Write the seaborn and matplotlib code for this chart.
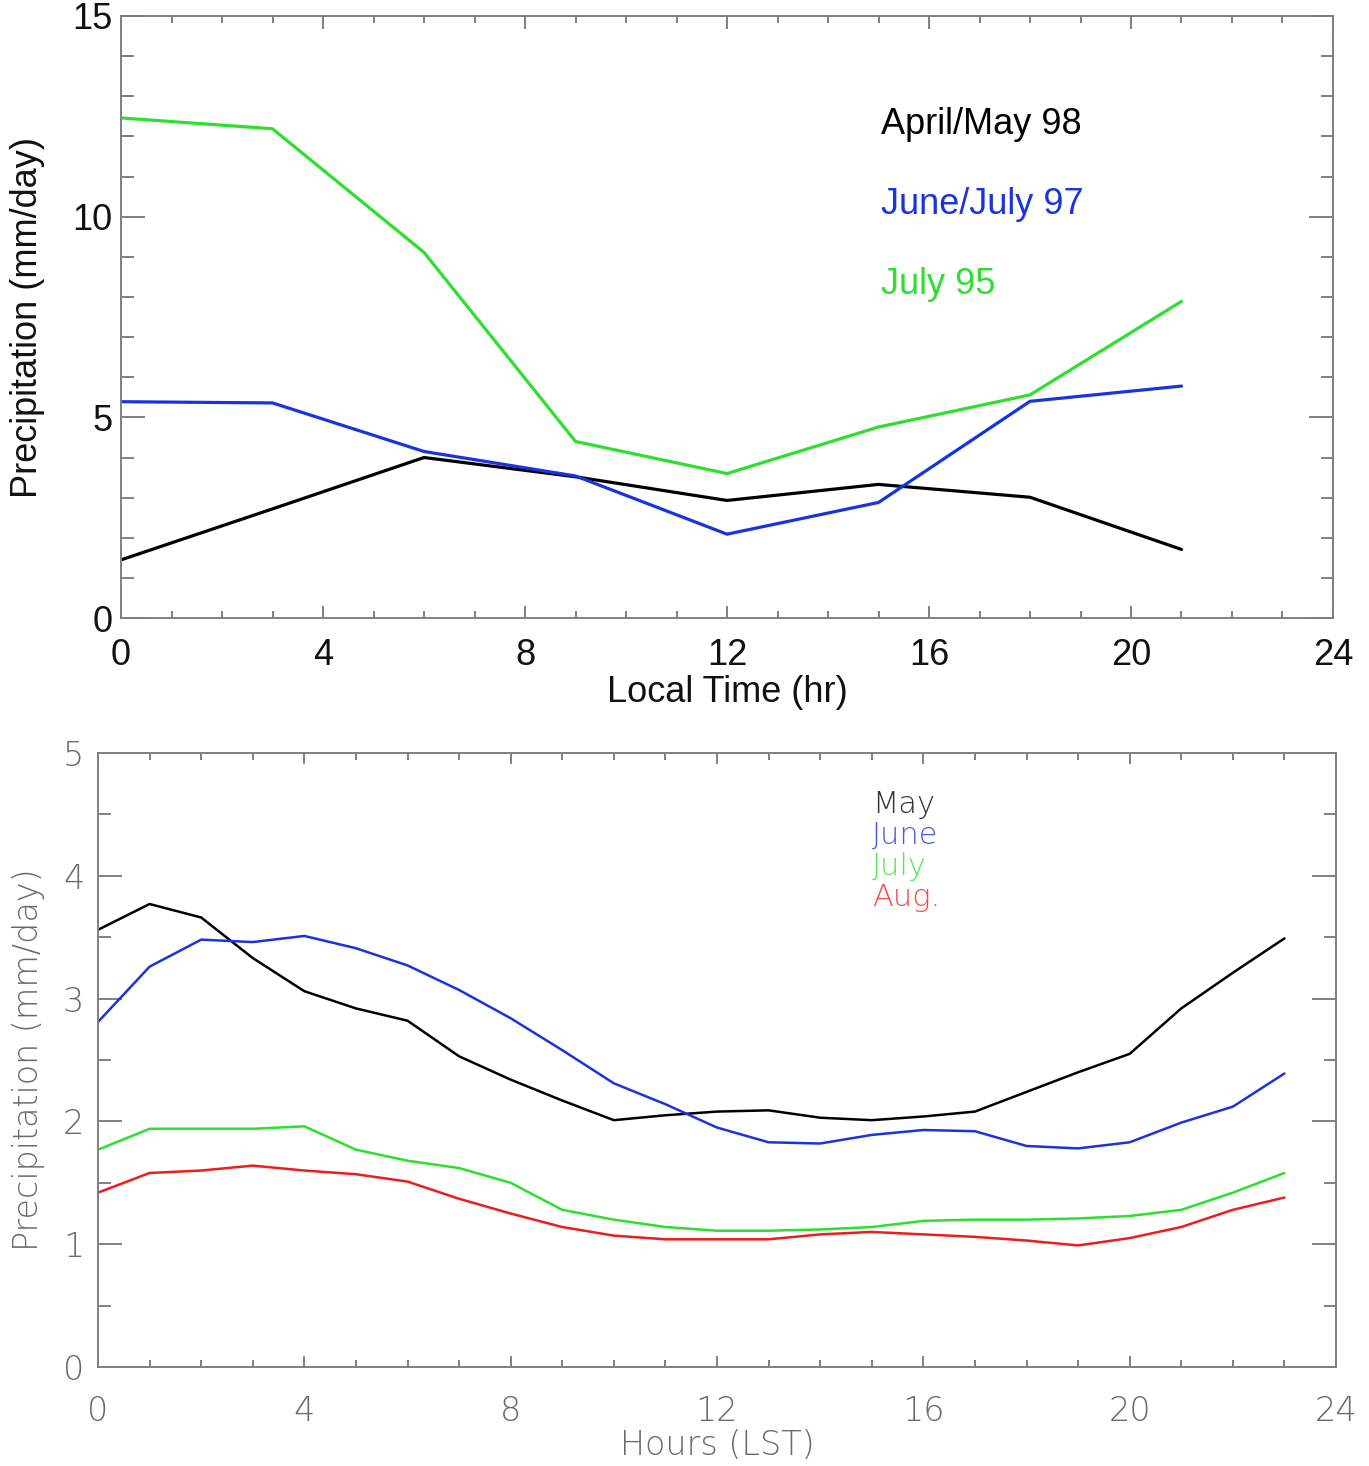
import pandas as pd
import matplotlib
matplotlib.use("Agg")
import matplotlib.pyplot as plt
from matplotlib.ticker import MultipleLocator
import seaborn as sns

# top panel: 3-hourly diurnal cycle
top_hours = [0, 3, 6, 9, 12, 15, 18, 21]
top_aprmay98 = [1.45, 2.72, 4.00, 3.52, 2.93, 3.33, 3.01, 1.71]
top_junjul97 = [5.39, 5.36, 4.15, 3.54, 2.09, 2.88, 5.40, 5.78]
top_jul95 = [12.46, 12.19, 9.11, 4.40, 3.60, 4.76, 5.56, 7.89]
top_names = ["April/May 98", "June/July 97", "July 95"]

# bottom panel: hourly diurnal cycle
bot_hours = list(range(24))
bot_may = [3.56, 3.77, 3.66, 3.33, 3.06, 2.92, 2.82, 2.53, 2.34, 2.17, 2.01, 2.05,
           2.08, 2.09, 2.03, 2.01, 2.04, 2.08, 2.24, 2.40, 2.55, 2.92, 3.21, 3.49]
bot_june = [2.81, 3.26, 3.48, 3.46, 3.51, 3.41, 3.27, 3.07, 2.84, 2.58, 2.31, 2.14,
            1.95, 1.83, 1.82, 1.89, 1.93, 1.92, 1.80, 1.78, 1.83, 1.99, 2.12, 2.39]
bot_july = [1.77, 1.94, 1.94, 1.94, 1.96, 1.77, 1.68, 1.62, 1.50, 1.28, 1.20, 1.14,
            1.11, 1.11, 1.12, 1.14, 1.19, 1.20, 1.20, 1.21, 1.23, 1.28, 1.42, 1.58]
bot_aug = [1.42, 1.58, 1.60, 1.64, 1.60, 1.57, 1.51, 1.37, 1.25, 1.14, 1.07, 1.04,
           1.04, 1.04, 1.08, 1.10, 1.08, 1.06, 1.03, 0.99, 1.05, 1.14, 1.28, 1.38]
bot_names = ["May", "June", "July", "Aug."]

top_colors = ["#000000", "#1a33e0", "#2ee02e"]
bot_colors = ["#000000", "#1a33e0", "#2ee02e", "#ee1c1c"]

df_top = pd.DataFrame({
    "hour": top_hours * 3,
    "precip": top_aprmay98 + top_junjul97 + top_jul95,
    "period": sum([[n] * len(top_hours) for n in top_names], []),
})
df_bot = pd.DataFrame({
    "hour": bot_hours * 4,
    "precip": bot_may + bot_june + bot_july + bot_aug,
    "month": sum([[n] * len(bot_hours) for n in bot_names], []),
})

sns.set_style("ticks")
plt.rcParams["font.family"] = ["Liberation Sans", "DejaVu Sans"]

fig = plt.figure(figsize=(13.69, 14.66), dpi=100)
spine_col = "#808080"

# ---------------- top ----------------
ax1 = fig.add_axes([0.0884, 0.5784, 0.8853, 0.4107])
sns.lineplot(data=df_top, x="hour", y="precip", hue="period", hue_order=top_names,
             palette=top_colors, linewidth=2.3, legend=False, ax=ax1)
ax1.set_xlim(0, 24)
ax1.set_ylim(0, 15)
ax1.xaxis.set_major_locator(MultipleLocator(4))
ax1.xaxis.set_minor_locator(MultipleLocator(1))
ax1.yaxis.set_major_locator(MultipleLocator(5))
ax1.yaxis.set_minor_locator(MultipleLocator(1))
ax1.tick_params(which="both", direction="in", top=True, right=True,
                color=spine_col, width=1.4, labelsize=26, labelcolor="#111111")
ax1.tick_params(axis="x", which="major", length=9, pad=14)
ax1.tick_params(axis="x", which="minor", length=5)
ax1.tick_params(axis="y", which="major", length=17, pad=6)
ax1.tick_params(axis="y", which="minor", length=9)
for s in ax1.spines.values():
    s.set_color(spine_col)
    s.set_linewidth(1.4)
ax1.set_xlabel("Local Time (hr)", fontsize=26, color="#111111", va="center")
ax1.set_ylabel("Precipitation (mm/day)", fontsize=26, color="#111111", va="center")
ax1.xaxis.set_label_coords(0.5, -0.123)
ax1.yaxis.set_label_coords(-0.077, 0.5)
for i, name in enumerate(top_names):
    ax1.text(15.05, 12.3 - 2.0 * i, name, color=top_colors[i], fontsize=26,
             ha="left", va="center")

# ---------------- bottom ----------------
ax2 = fig.add_axes([0.0716, 0.0675, 0.9043, 0.4189])
sns.lineplot(data=df_bot, x="hour", y="precip", hue="month", hue_order=bot_names,
             palette=bot_colors, linewidth=1.8, legend=False, ax=ax2)
ax2.set_xlim(0, 24)
ax2.set_ylim(0, 5)
ax2.xaxis.set_major_locator(MultipleLocator(4))
ax2.xaxis.set_minor_locator(MultipleLocator(1))
ax2.yaxis.set_major_locator(MultipleLocator(1))
ax2.yaxis.set_minor_locator(MultipleLocator(0.5))
grey_txt = "#6a6a6a"
ax2.tick_params(which="both", direction="in", top=True, right=True,
                color=spine_col, width=1.4, labelsize=24, labelcolor=grey_txt)
ax2.tick_params(axis="x", which="major", length=8, pad=20)
ax2.tick_params(axis="x", which="minor", length=5)
ax2.tick_params(axis="y", which="major", length=17, pad=10)
ax2.tick_params(axis="y", which="minor", length=9)
for lab in ax2.get_xticklabels() + ax2.get_yticklabels():
    lab.set_family(["DejaVu Sans"])
    lab.set_fontweight("light")
for s in ax2.spines.values():
    s.set_color(spine_col)
    s.set_linewidth(1.4)
ax2.set_xlabel("Hours (LST)", fontsize=24, color=grey_txt, va="center",
               family=["DejaVu Sans"], fontweight="light")
ax2.set_ylabel("Precipitation (mm/day)", fontsize=24, color=grey_txt, va="center",
               family=["DejaVu Sans"], fontweight="light")
ax2.xaxis.set_label_coords(0.5, -0.127)
ax2.yaxis.set_label_coords(-0.0565, 0.5)
for i, name in enumerate(bot_names):
    ax2.text(15.0, 4.58 - 0.253 * i, name, color=bot_colors[i], fontsize=22,
             ha="left", va="center", alpha=0.8, family=["DejaVu Sans"],
             fontweight="light")

fig.savefig("out.png", dpi=100)
